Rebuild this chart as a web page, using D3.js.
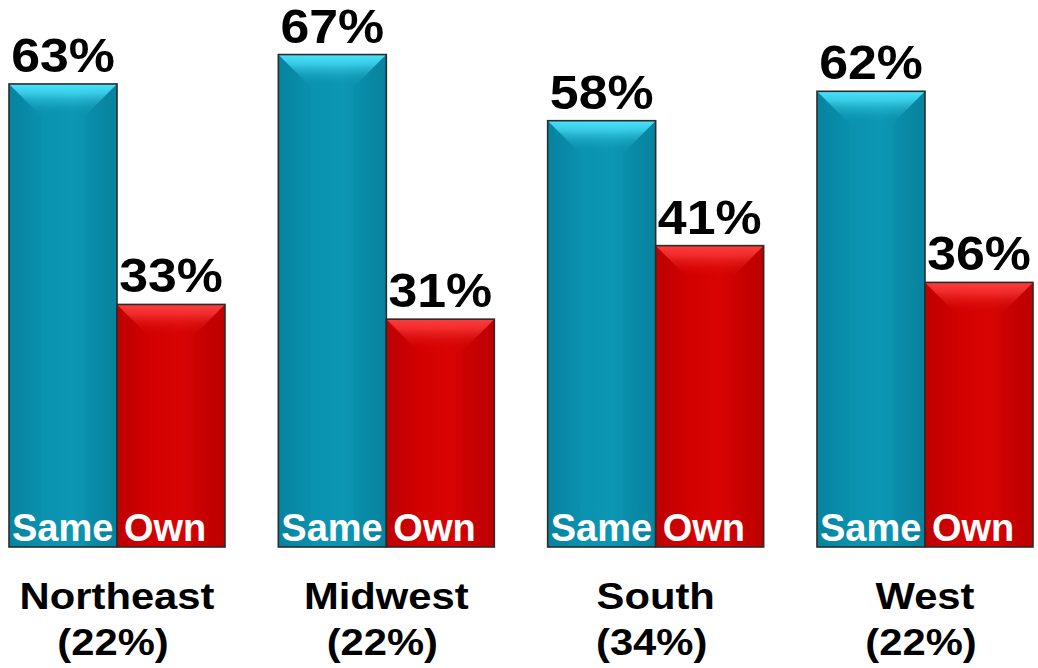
<!DOCTYPE html>
<html>
<head>
<meta charset="utf-8">
<script src="https://cdn.jsdelivr.net/npm/d3@7"></script>
<style>
  html, body { margin: 0; padding: 0; background: #fff; }
  svg { display: block; font-family: "Liberation Sans", Arial, sans-serif; }
</style>
</head>
<body>
<svg id="chart" width="1038" height="668"></svg>
<script>
// ---- data ----
const regions = ["Northeast", "Midwest", "South", "West"];
const regionShares = ["(22%)", "(22%)", "(34%)", "(22%)"];
const seriesNames = ["Same", "Own"];
const sameValues = [63, 67, 58, 62];
const ownValues = [33, 31, 41, 36];

const W = 1038, H = 668;
const svg = d3.select("#chart");
const defs = svg.append("defs");

const palette = {
  Same: { main: "#0a91ae", light: "#4ae3fd", dark: "#07839f", mid: "#0c97b4" },
  Own:  { main: "#d20000", light: "#ff3d3d", dark: "#bd0000", mid: "#d80404" }
};

seriesNames.forEach(s => {
  const c = palette[s];
  const hg = defs.append("linearGradient").attr("id", "h-" + s).attr("x1", 0).attr("x2", 1).attr("y1", 0).attr("y2", 0);
  hg.append("stop").attr("offset", "0%").attr("stop-color", c.dark);
  hg.append("stop").attr("offset", "25%").attr("stop-color", c.main);
  hg.append("stop").attr("offset", "60%").attr("stop-color", c.mid);
  hg.append("stop").attr("offset", "100%").attr("stop-color", c.dark);
  const tg = defs.append("linearGradient").attr("id", "t-" + s).attr("x1", 0).attr("x2", 0).attr("y1", 0).attr("y2", 1);
  tg.append("stop").attr("offset", "0%").attr("stop-color", c.light);
  tg.append("stop").attr("offset", "30%").attr("stop-color", c.light).attr("stop-opacity", 0.7);
  tg.append("stop").attr("offset", "100%").attr("stop-color", c.main).attr("stop-opacity", 0.0);
});

const baseY = 547;
const y = d3.scaleLinear().domain([0, 100]).range([baseY, baseY - 735]);
const x0 = d3.scaleBand().domain(regions).range([9, 1033]).paddingInner(0.198).paddingOuter(0);
const x1 = d3.scaleBand().domain(seriesNames).range([0, x0.bandwidth()]).padding(0);

const rows = regions.map((r, i) => ({ region: r, share: regionShares[i], Same: sameValues[i], Own: ownValues[i] }));

const groups = svg.selectAll("g.grp").data(rows).join("g").attr("class", "grp")
  .attr("transform", d => `translate(${x0(d.region)},0)`);

const bars = groups.selectAll("g.bar")
  .data(d => seriesNames.map(s => ({ series: s, value: d[s] })))
  .join("g").attr("class", "bar");

bars.each(function(d) {
  const g = d3.select(this);
  const bx = x1(d.series), bw = x1.bandwidth();
  const by = y(d.value), bh = baseY - by;
  const dd = Math.min(32, bh / 2, bw / 2);
  const c = palette[d.series];
  g.append("rect").attr("x", bx).attr("y", by).attr("width", bw).attr("height", bh)
    .attr("fill", `url(#h-${d.series})`);
  // left side shade
  g.append("polygon")
    .attr("points", [[bx, by], [bx + dd, by + dd], [bx + dd, baseY], [bx, baseY]].map(p => p.join(",")).join(" "))
    .attr("fill", c.dark).attr("opacity", 0.18);
  // right side shade
  g.append("polygon")
    .attr("points", [[bx + bw, by], [bx + bw - dd, by + dd], [bx + bw - dd, baseY], [bx + bw, baseY]].map(p => p.join(",")).join(" "))
    .attr("fill", c.dark).attr("opacity", 0.22);
  // top bevel
  g.append("polygon")
    .attr("points", [[bx, by], [bx + bw, by], [bx + bw - dd, by + dd], [bx + dd, by + dd]].map(p => p.join(",")).join(" "))
    .attr("fill", `url(#t-${d.series})`);
  // border
  g.append("rect").attr("x", bx).attr("y", by).attr("width", bw).attr("height", bh)
    .attr("fill", "none").attr("stroke", "#2b2b2b").attr("stroke-width", 1.6);
  // value label
  g.append("text")
    .attr("transform", `translate(${bx + bw / 2},${by - 12}) scale(1.08,1)`)
    .attr("text-anchor", "middle").attr("font-size", 48).attr("font-weight", "bold").attr("fill", "#000")
    .text(d.value + "%");
  // series label inside bar
  g.append("text")
    .attr("x", bx + (d.series === "Same" ? 3 : 7)).attr("y", 541)
    .attr("font-size", 38).attr("font-weight", "bold").attr("fill", "#fff")
    .text(d.series);
});

// category labels
groups.append("text")
  .attr("transform", d => `translate(${x0.bandwidth() / 2},609) scale(1.16,1)`)
  .attr("text-anchor", "middle").attr("font-size", 36).attr("font-weight", "bold").attr("fill", "#000")
  .text(d => d.region);
groups.append("text")
  .attr("transform", d => `translate(${x0.bandwidth() / 2 - 4},655) scale(1.16,1)`)
  .attr("text-anchor", "middle").attr("font-size", 36).attr("font-weight", "bold").attr("fill", "#000")
  .text(d => d.share);
</script>
</body>
</html>
